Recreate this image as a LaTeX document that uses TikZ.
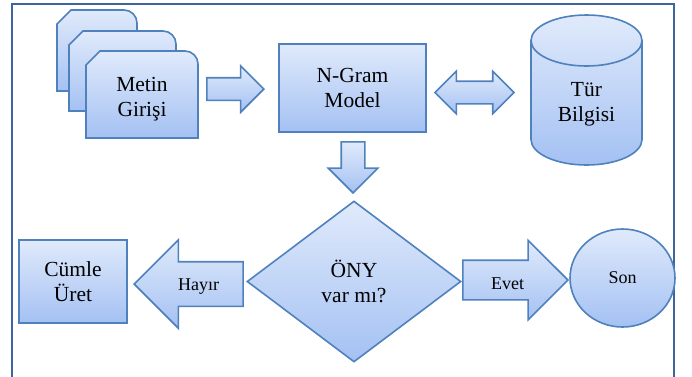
\documentclass[tikz,border=0pt]{standalone}
\usepackage{fontspec}
\setmainfont{Liberation Serif}
\usetikzlibrary{shapes.geometric,shapes.arrows}
\definecolor{cizgi}{HTML}{4F81BD}
\definecolor{cerceverenk}{HTML}{3F669C}
\definecolor{ustdolgu}{HTML}{E0EAFB}
\definecolor{altdolgu}{HTML}{A4C1F3}
\tikzset{
  dolgu/.style={draw=cizgi,line width=1.6pt,top color=ustdolgu,bottom color=altdolgu},
  kutu/.style={dolgu,rectangle,align=center,font=\fontsize{21.5}{25}\selectfont},
  yazi/.style={align=center,font=\fontsize{21.5}{25}\selectfont},
  ok/.style={dolgu,single arrow,single arrow head indent=0pt},
  etiket/.style={font=\fontsize{18}{22}\selectfont,anchor=base,inner sep=0pt},
}
\begin{document}
\begin{tikzpicture}[x=1pt,y=-1pt]
\useasboundingbox (0,0) rectangle (692,376);
% cerceve
\draw[cerceverenk,line width=2pt] (12,384) -- (12,4) -- (674,4) -- (674,384);

% metin girisi (uc belge)
\foreach \xa/\ya/\xb/\yb in {57/10/137/91, 69/31/176/111, 86/51/198/138}
  \draw[dolgu] (\xa,\yb) -- (\xa,\ya+14) -- (\xa+14,\ya) -- (\xb-13,\ya)
    arc (270:360:13) -- (\xb,\yb) -- cycle;
\node[yazi] (metin) at (142,99) {Metin\\Girişi};

\node[kutu,minimum width=147pt,minimum height=88pt] (ngram) at (352.5,88) {N-Gram\\Model};

% tur bilgisi (silindir)
\draw[dolgu] (531,40.5) -- (531,139.5) arc (180:0:55.5 and 25.5) -- (642,40.5)
  arc (0:-180:55.5 and 25.5) -- cycle;
\draw[cizgi,line width=1.6pt] (531,40.5) arc (180:0:55.5 and 25.5);
\node[yazi] (tur) at (586.5,104) {Tür\\Bilgisi};

\node[kutu,diamond,minimum width=214pt,minimum height=161pt,inner sep=0pt] (ony) at (354,281.5) {ÖNY\\var mı?};
\node[kutu,minimum width=108pt,minimum height=83pt] (cumle) at (73,281.5) {Cümle\\Üret};
\node[kutu,ellipse,minimum width=105pt,minimum height=98pt,font=\fontsize{18}{22}\selectfont] (son) at (622.5,278) {Son};

% bloklu oklar
\node[ok,anchor=tip,inner sep=10.5pt,minimum height=57pt,minimum width=45pt,single arrow head extend=12pt] (ok1) at (265,89) {};
\node[dolgu,double arrow,double arrow head indent=0pt,inner sep=10.5pt,minimum height=79pt,minimum width=41pt,double arrow head extend=10pt] (okcift) at (474.5,92.5) {};
\node[ok,shape border rotate=270,anchor=tip,inner sep=11pt,minimum height=51pt,minimum width=48pt,single arrow head extend=13pt] (okasagi) at (353,194) {};
\node[ok,shape border rotate=180,anchor=tip,inner sep=21.5pt,minimum height=109pt,minimum width=87pt,single arrow head extend=22pt] (okhayir) at (133,284) {};
\node[ok,anchor=tip,inner sep=19pt,minimum height=105pt,minimum width=78pt,single arrow head extend=20pt] (okevet) at (569,280) {};
\node[etiket] (hayir) at (198.5,290) {Hayır};
\node[etiket] (evet) at (507.5,289) {Evet};
\end{tikzpicture}
\end{document}
